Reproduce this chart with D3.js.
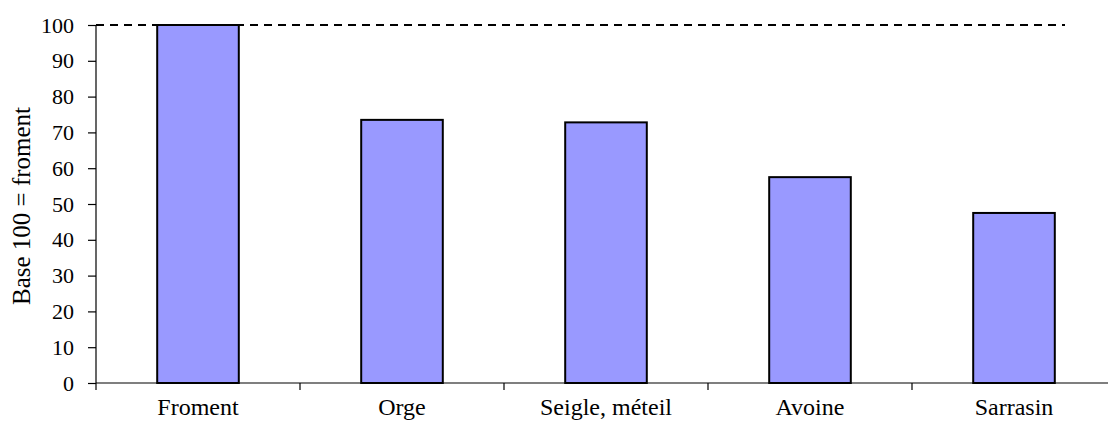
<!DOCTYPE html>
<html>
<head>
<meta charset="utf-8">
<script src="https://cdn.jsdelivr.net/npm/d3@7"></script>
<style>
  html, body { margin: 0; padding: 0; background: #fff; }
  svg { display: block; }
  text { font-family: "Liberation Serif", "Times New Roman", serif; fill: #000; }
</style>
</head>
<body>
<svg id="chart" width="1108" height="421"></svg>
<script>
const categories = ["Froment", "Orge", "Seigle, méteil", "Avoine", "Sarrasin"];
const values = [100, 73.5, 72.8, 57.5, 47.5];
const yTicks = [0, 10, 20, 30, 40, 50, 60, 70, 80, 90, 100];
const refValue = 100;
const yTitle = "Base 100 = froment";

(function () {
const svg = d3.select("#chart");
const pLeft = 96, pRight = 1116, pTop = 25, pBottom = 383;

const x = d3.scaleBand().domain(categories).range([pLeft, pRight])
  .paddingInner(0.6).paddingOuter(0.3);
const y = d3.scaleLinear().domain([0, 100]).range([pBottom, pTop]);
const step = x.step();

// bars
svg.append("g").selectAll("rect").data(values).join("rect")
  .attr("x", (d, i) => x(categories[i]))
  .attr("y", d => y(d))
  .attr("width", x.bandwidth())
  .attr("height", d => y(0) - y(d))
  .attr("fill", "#9999ff")
  .attr("stroke", "#000")
  .attr("stroke-width", 2);

// reference dashed line
svg.append("line")
  .attr("x1", pLeft)
  .attr("x2", pRight - step / 4)
  .attr("y1", y(refValue)).attr("y2", y(refValue))
  .attr("stroke", "#000")
  .attr("stroke-width", 2)
  .attr("stroke-dasharray", "8,6");

// y axis
const yAxis = svg.append("g").attr("transform", `translate(${pLeft},0)`)
  .call(d3.axisLeft(y).tickValues(yTicks).tickSize(8).tickPadding(14).tickSizeOuter(0));
yAxis.select(".domain").attr("stroke", "#000").attr("stroke-width", 1.2)
  .attr("d", `M0,${y(100)}V${y(0) + 7}`);
yAxis.selectAll(".tick line").attr("stroke", "#000").attr("stroke-width", 1.2);
yAxis.selectAll(".tick text").style("font-size", "22px")
  .style("font-family", "Liberation Serif, Times New Roman, serif");

// x axis
const xAxis = svg.append("g").attr("transform", `translate(0,${pBottom})`);
xAxis.append("line").attr("x1", pLeft).attr("x2", 1108).attr("y1", 0).attr("y2", 0)
  .attr("stroke", "#000").attr("stroke-width", 1.2);
xAxis.selectAll("line.b").data(categories.slice(1)).join("line").attr("class", "b")
  .attr("x1", c => x(c) - (step - x.bandwidth()) / 2)
  .attr("x2", c => x(c) - (step - x.bandwidth()) / 2)
  .attr("y1", 0).attr("y2", 7)
  .attr("stroke", "#000").attr("stroke-width", 1.2);
xAxis.selectAll("text").data(categories).join("text")
  .attr("x", c => x(c) + x.bandwidth() / 2)
  .attr("y", 32)
  .attr("text-anchor", "middle")
  .style("font-size", "24px")
  .text(c => c);

// y title
svg.append("text")
  .attr("transform", `translate(30,${(pTop + pBottom) / 2 + 2}) rotate(-90)`)
  .attr("text-anchor", "middle")
  .style("font-size", "25px")
  .text(yTitle);
})();
</script>
</body>
</html>
